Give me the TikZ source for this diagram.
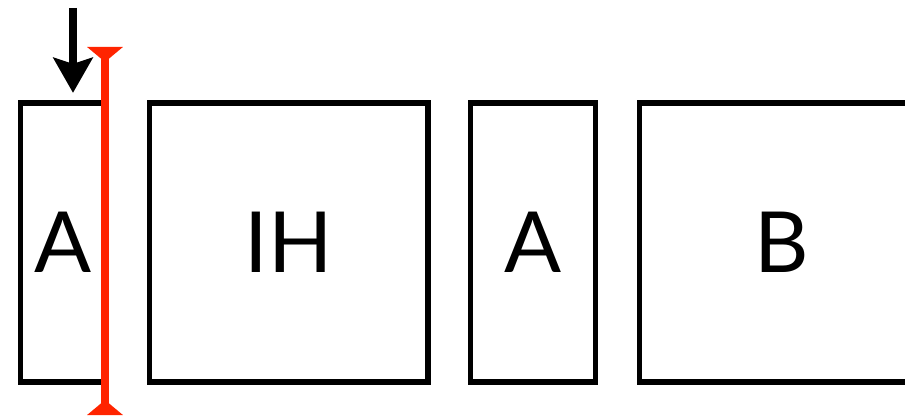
\documentclass[tikz,border=0pt]{standalone}
\usepackage{fontspec}
\setmainfont{Lato}
\usetikzlibrary{positioning,calc,arrows.meta}
\definecolor{cutred}{RGB}{255,36,0}

\begin{document}
\begin{tikzpicture}[blk/.style={rectangle,draw,line width=3pt,minimum height=5.58cm,inner sep=0pt,font=\fontsize{48}{48}\selectfont}]
\useasboundingbox (0,0) rectangle (18.1,8.34);
\clip (0,0) rectangle (18.1,8.34);
\node[blk,minimum width=1.69cm] (a1) at (1.255,3.49) {A};
\node[blk,minimum width=5.57cm] (ih) at (5.775,3.49) {IH};
\node[blk,minimum width=2.5cm] (a2) at (10.66,3.49) {A};
\node[blk,minimum width=5.69cm] (b) at (15.635,3.49) {B};

\coordinate (arrtop) at (1.46,8.18);
\coordinate (cuttop) at (2.10,7.40);
\coordinate (cutbot) at (2.10,0.04);

\draw[-{Stealth[length=0.7cm,width=0.78cm,inset=0.12cm]},line width=4.5pt,shorten >=0.15cm] (arrtop) -- (a1.north -| arrtop);
\draw[{Triangle[reversed,length=0.3cm,width=0.7cm]}-{Triangle[reversed,length=0.3cm,width=0.7cm]},line width=4.5pt,cutred] (cutbot) -- (cuttop);
\end{tikzpicture}
\end{document}
